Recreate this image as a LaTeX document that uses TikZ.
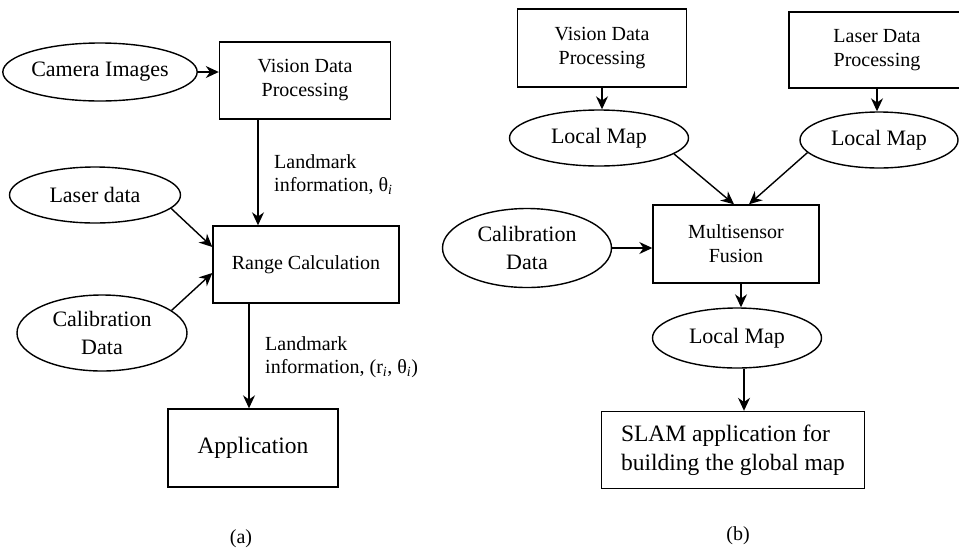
\documentclass[tikz,border=0pt]{standalone}
\usepackage{fontspec}
\setmainfont{Liberation Serif}
\newfontfamily\timesfont{Liberation Serif}
\usetikzlibrary{shapes.geometric,arrows.meta}
\tikzset{
  oval/.style={draw,ellipse,line width=1.4pt,inner sep=0pt,align=center,font=\timesfont\fontsize{22}{28}\selectfont},
  block/.style={draw,rectangle,line width=1.4pt,inner sep=0pt,align=center,font=\timesfont\fontsize{20}{24}\selectfont},
  flow/.style={-{Stealth[length=13pt,width=12pt]},line width=1.4pt},
  note/.style={anchor=north west,align=left,inner sep=0pt,font=\timesfont\fontsize{20}{23}\selectfont},
  caption/.style={inner sep=0pt,font=\timesfont\fontsize{20}{24}\selectfont}
}

\begin{document}
\begin{tikzpicture}[x=1pt,y=-1pt]
\useasboundingbox (0,0) rectangle (959,550);

\node [oval,minimum width=170pt,minimum height=58pt] (cameraA) at (100,72) {Camera Images};
\node [block,minimum width=171pt,minimum height=77pt] (visionA) at (305,80.5) {Vision Data\\Processing};
\node [oval,minimum width=171pt,minimum height=56pt] (laserA) at (95,195) {Laser data};
\node [block,minimum width=186pt,minimum height=77pt] (rangeA) at (306,264.5) {Range Calculation};
\node [oval,minimum width=170pt,minimum height=76pt] (calibA) at (102,333) {Calibration\\Data};
\node [block,minimum width=170pt,minimum height=78pt,font=\timesfont\fontsize{23.5}{28}\selectfont] (appA) at (253,448) {Application};
\node [note] (landmarkA) at (274,154) {Landmark\\information, θ\textsubscript{\textit{i}}};
\node [note] (landmarkB) at (265,336) {Landmark\\information, (r\textsubscript{\textit{i}}, θ\textsubscript{\textit{i}})};
\node [caption] (capA) at (241,539) {(a)};

\draw [flow] (cameraA.east) -- (cameraA.east -| visionA.west);
\draw [flow] ([xshift=-47pt]visionA.south) -- ([xshift=-48pt]rangeA.north);
\draw [flow] (laserA.-10) -- ([yshift=17.5pt]rangeA.west);
\draw [flow] (calibA.18) -- ([yshift=-8.5pt]rangeA.west);
\draw [flow] ([xshift=-57pt]rangeA.south) -- ([xshift=-4pt]appA.north);

\node [block,minimum width=169pt,minimum height=78pt] (visionB) at (602,48) {Vision Data\\Processing};
\node [block,minimum width=176pt,minimum height=76pt] (laserB) at (877,50) {Laser Data\\Processing};
\node [oval,minimum width=179pt,minimum height=56pt] (mapV) at (599,138) {Local Map};
\node [oval,minimum width=158pt,minimum height=56pt] (mapL) at (879,140) {Local Map};
\node [block,minimum width=166pt,minimum height=78pt] (fusionB) at (736,244) {Multisensor\\Fusion};
\node [oval,minimum width=169pt,minimum height=79pt] (calibB) at (527,248) {Calibration\\Data};
\node [oval,minimum width=169pt,minimum height=60pt] (mapF) at (737,338) {Local Map};
\node [block,minimum width=263pt,minimum height=77pt,align=left,font=\timesfont\fontsize{23.5}{29}\selectfont] (slamB) at (733,450) {SLAM application for\\building the global map};
\node [caption] (capB) at (738,536) {(b)};

\draw [flow] (visionB.south) -- (visionB.south |- mapV.north);
\draw [flow] (laserB.south) -- (laserB.south |- mapL.north);
\draw [flow] (mapV.-12) -- ([xshift=-2pt]fusionB.north);
\draw [flow] (mapL.190) -- ([xshift=13pt]fusionB.north);
\draw [flow] (calibB.east) -- (calibB.east -| fusionB.west);
\draw [flow] ([xshift=5pt]fusionB.south) -- ([xshift=5pt]fusionB.south |- mapF.north);
\draw [flow] ([xshift=7pt]mapF.south) -- ([xshift=11pt]slamB.north);
\end{tikzpicture}
\end{document}
